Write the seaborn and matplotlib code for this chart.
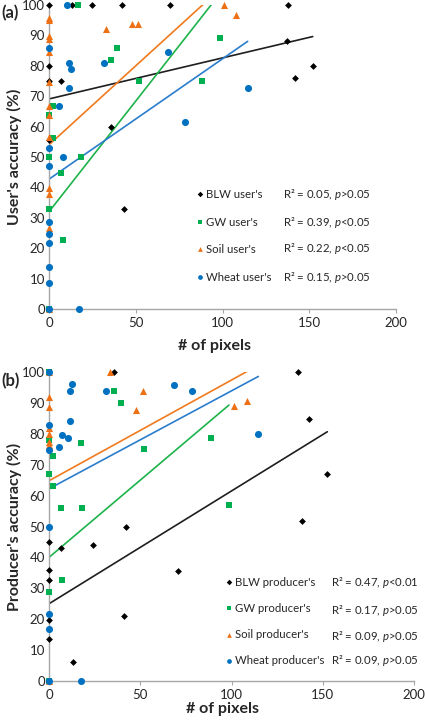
import matplotlib.pyplot as plt
import pandas as pd
import seaborn as sns

# (a) user's accuracy vs number of pixels
blw_user_x = [0, 13, 25, 42, 70, 138, 137, 152, 142, 0, 0, 6.7, 36, 0, 43]
blw_user_y = [100, 100, 100, 100, 100, 100, 88, 80, 76, 80, 75, 75, 60, 55.6, 33]
gw_user_x = [17, 39, 35.7, 52, 88, 98.5, 2.3, 0, 2.3, 0, 18.4, 6.7, 0, 7.9, 0]
gw_user_y = [100, 86, 82, 75, 75, 89, 66.8, 63.8, 56.2, 50, 50, 44.9, 32.8, 22.8, 0]
soil_user_x = [0, 0, 0, 0, 0, 0, 0, 0, 0, 33, 47.6, 51.5, 101, 108, 0, 0, 0, 0]
soil_user_y = [95.7, 95, 89.9, 88.8, 84.7, 74.8, 66.8, 63.8, 56.7, 92, 93.8, 93.8, 100, 96.7,
               39.7, 37.7, 26.7, 0]
wheat_user_x = [10.6, 0, 11.7, 12.7, 11.7, 31.5, 68.8, 78.6, 5.6, 0, 7.9, 0, 114.5,
                0, 0, 0, 0, 0, 17.5, 0]
wheat_user_y = [100, 85.8, 80.9, 78.9, 72.7, 80.9, 84.7, 61.6, 66.8, 52.9, 50, 46.9, 72.7,
                28.7, 24.8, 21.7, 13.8, 8.6, 0, 0]

# (b) producer's accuracy vs number of pixels
blw_prod_x = [35.6, 136.3, 142.5, 152.5, 138.5, 42.2, 0, 0, 0, 0, 0, 6.4, 24.3, 70.5, 41.3, 13.3]
blw_prod_y = [100, 100, 84.7, 66.9, 51.9, 49.8, 45, 35.8, 32.8, 19.8, 13.7, 43, 43.9, 35.7, 20.9, 6]
gw_prod_x = [0, 0, 0, 0, 0, 2.4, 2.4, 6.4, 18.3, 17.4, 35.6, 39.5, 52.2, 88.6, 98.6, 7.3]
gw_prod_y = [100, 77.9, 67, 28.8, 0, 72.8, 63, 55.9, 55.9, 76.9, 93.8, 89.9, 75, 78.7, 56.8, 32.8]
soil_prod_x = [0, 0, 0, 0, 0, 0, 0, 0, 33.4, 51.7, 47.5, 101.4, 108.7]
soil_prod_y = [100, 91.8, 88.8, 82, 79.8, 77.5, 76.4, 0, 100, 93.8, 87.8, 88.9, 90.7]
wheat_prod_x = [0, 0, 0, 0, 0, 0, 0, 12.4, 11.5, 11.5, 7.3, 10.2, 5.5, 31.4, 68.3, 78.4,
                114.7, 17.5]
wheat_prod_y = [100, 82.8, 74.9, 50, 21.8, 16.7, 0, 96, 93.8, 84, 79.6, 78.8, 75.8, 93.8,
                95.9, 93.8, 79.8, 0]

# trend lines (BLW, GW, Soil, Wheat)
classes = ['BLW', 'GW', 'Soil', 'Wheat']
user_intercept = [69.1, 32, 54, 42.7]
user_slope = [0.135, 0.728, 0.52, 0.396]
prod_intercept = [25, 40, 64.8, 62.2]
prod_slope = [0.365, 0.5, 0.326, 0.317]

user_labels = ["BLW user's", "GW user's", "Soil user's", "Wheat user's"]
user_stats = ["R² = 0.05, $\\mathit{p}$>0.05", "R² = 0.39, $\\mathit{p}$<0.05",
              "R² = 0.22, $\\mathit{p}$<0.05", "R² = 0.15, $\\mathit{p}$>0.05"]
prod_labels = ["BLW producer's", "GW producer's", "Soil producer's", "Wheat producer's"]
prod_stats = ["R² = 0.47, $\\mathit{p}$<0.01", "R² = 0.17, $\\mathit{p}$>0.05",
              "R² = 0.09, $\\mathit{p}$>0.05", "R² = 0.09, $\\mathit{p}$>0.05"]

x_ticks = [0, 50, 100, 150, 200]
y_ticks = [0, 10, 20, 30, 40, 50, 60, 70, 80, 90, 100]

colors = {'BLW': '#000000', 'GW': '#00b050', 'Soil': '#ee7014', 'Wheat': '#0070c0'}
line_colors = {'BLW': '#1e1e1e', 'GW': '#1db34a', 'Soil': '#f07a1e', 'Wheat': '#2a7ccc'}
markers = {'BLW': 'D', 'GW': 's', 'Soil': '^', 'Wheat': 'o'}
sizes = {'BLW': 12, 'GW': 22, 'Soil': 26, 'Wheat': 26}

sns.set_style('white')
plt.rcParams['font.family'] = ['Lato', 'DejaVu Sans']
plt.rcParams['mathtext.fontset'] = 'custom'
plt.rcParams['mathtext.rm'] = 'Lato'
plt.rcParams['mathtext.it'] = 'Lato:italic'

W, H = 425, 721


def fig_xy(x, y):
    return x / W, 1 - y / H


def long_points(xs_list, ys_list):
    frames = []
    for name, xs, ys in zip(classes, xs_list, ys_list):
        frames.append(pd.DataFrame({'pixels': xs, 'accuracy': ys, 'class': name}))
    return pd.concat(frames, ignore_index=True)


def long_lines(xs_list, intercepts, slopes):
    frames = []
    for name, xs, b, m in zip(classes, xs_list, intercepts, slopes):
        ends = [0, max(xs)]
        frames.append(pd.DataFrame({'pixels': ends, 'accuracy': [b + m * e for e in ends],
                                    'class': name}))
    return pd.concat(frames, ignore_index=True)


def draw_panel(ax, pts, lines):
    sns.lineplot(data=lines, x='pixels', y='accuracy', hue='class', palette=line_colors,
                 legend=False, ax=ax, lw=1.2, zorder=2)
    for name in classes:
        sub = pts[pts['class'] == name]
        sns.scatterplot(data=sub, x='pixels', y='accuracy', color=colors[name],
                        marker=markers[name], s=sizes[name], linewidth=0, legend=False,
                        ax=ax, clip_on=False, zorder=3)
    ax.set_xlim(0, 200)
    ax.set_ylim(0, 100)
    ax.set_xticks(x_ticks)
    ax.set_yticks(y_ticks)
    ax.set_xlabel('')
    ax.set_ylabel('')
    for s in ['top', 'right']:
        ax.spines[s].set_visible(False)
    for s in ['left', 'bottom']:
        ax.spines[s].set_color('#a6a6a6')
        ax.spines[s].set_linewidth(1)
    ax.tick_params(axis='x', length=3, width=0.8, color='#a6a6a6', pad=3, labelsize=9.5,
                   direction='out', bottom=True)
    ax.tick_params(axis='y', length=0, pad=3, labelsize=9.5)


def draw_legend(fig, labels, stats, mx, tx, sx, ys, sys_):
    for name, lab, st, y, sy in zip(classes, labels, stats, ys, sys_):
        x0, y0 = fig_xy(mx, y)
        fig.lines.append(plt.Line2D([x0], [y0], transform=fig.transFigure, color=colors[name],
                                   marker=markers[name], markersize=3.4 if name != 'BLW' else 2.8,
                                   linestyle='none', markeredgewidth=0))
        fig.text(*fig_xy(tx, y), lab, fontsize=8.2, va='center', ha='left')
        fig.text(*fig_xy(sx, sy), st, fontsize=8.2, va='center', ha='left')


fig = plt.figure(figsize=(W / 100, H / 100), dpi=100)
ax_a = fig.add_axes([49 / W, (H - 309) / H, (396 - 49) / W, 304 / H])
ax_b = fig.add_axes([49 / W, (H - 681) / H, (414 - 49) / W, 309 / H])

pts_a = long_points([blw_user_x, gw_user_x, soil_user_x, wheat_user_x],
                    [blw_user_y, gw_user_y, soil_user_y, wheat_user_y])
lines_a = long_lines([blw_user_x, gw_user_x, soil_user_x, wheat_user_x],
                     user_intercept, user_slope)
draw_panel(ax_a, pts_a, lines_a)

pts_b = long_points([blw_prod_x, gw_prod_x, soil_prod_x, wheat_prod_x],
                    [blw_prod_y, gw_prod_y, soil_prod_y, wheat_prod_y])
lines_b = long_lines([blw_prod_x, gw_prod_x, soil_prod_x, wheat_prod_x],
                     prod_intercept, prod_slope)
draw_panel(ax_b, pts_b, lines_b)

draw_legend(fig, user_labels, user_stats, 200, 206, 283,
            [194, 222, 249, 277], [194, 222, 248, 277])
draw_legend(fig, prod_labels, prod_stats, 229, 235, 331,
            [582, 608, 635, 661], [582, 610, 636, 661])

fig.text(*fig_xy(1, 13), '(a)', fontsize=12, fontweight='bold', va='center', ha='left')
fig.text(*fig_xy(1, 381), '(b)', fontsize=12, fontweight='bold', va='center', ha='left')
fig.text(*fig_xy(14, 157), "User's accuracy (%)", fontsize=11.5, fontweight='bold',
         rotation=90, va='center', ha='center')
fig.text(*fig_xy(14, 527), "Producer's accuracy (%)", fontsize=11.5, fontweight='bold',
         rotation=90, va='center', ha='center')
fig.text(*fig_xy(215, 346), '# of pixels', fontsize=11.5, fontweight='bold',
         va='center', ha='center')
fig.text(*fig_xy(222, 709), '# of pixels', fontsize=11.5, fontweight='bold',
         va='center', ha='center')

fig.savefig('out.png', dpi=100)
